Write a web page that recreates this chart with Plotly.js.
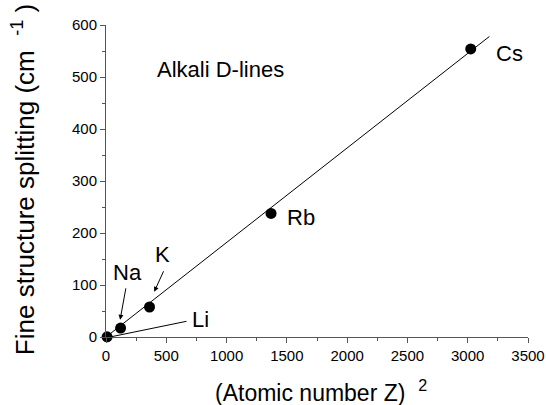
<!DOCTYPE html>
<html><head><meta charset="utf-8">
<script src="https://cdn.plot.ly/plotly-3.0.1.min.js"></script>
<style>html,body{margin:0;padding:0;background:#fff}#c{width:546px;height:405px}</style>
</head><body><div id="c"></div>
<script>
const elements = ["Li", "Na", "K", "Rb", "Cs"];
const zSquared = [9, 121, 361, 1369, 3025];
const splitting = [0.34, 17.2, 57.7, 237.6, 554.0];
const fitX = [0, 3180];
const fitY = [0, 578];
const xTicks = [0, 500, 1000, 1500, 2000, 2500, 3000, 3500];
const yTicks = [0, 100, 200, 300, 400, 500, 600];

const F = "Liberation Sans, Arial, Helvetica, sans-serif";
const traces = [
  {x: fitX, y: fitY, mode: "lines", line: {color: "#000", width: 1}, hoverinfo: "skip", cliponaxis: false},
  {x: zSquared, y: splitting, mode: "markers", text: elements, cliponaxis: false,
   marker: {color: "#000", size: 11}}
];
const lab = (t, x, y, xa) => ({text: t, x: x, y: y, xref: "x", yref: "y", showarrow: false,
  xanchor: xa || "center", yanchor: "middle", font: {family: F, size: 22, color: "#000"}});
const arr = (x, y, ax, ay, head) => ({text: "", x: x, y: y, ax: ax, ay: ay, xref: "x", yref: "y",
  showarrow: true, arrowhead: head, arrowsize: 1, arrowwidth: 1, arrowcolor: "#000", standoff: 0});
const layout = {
  width: 546, height: 405, showlegend: false,
  paper_bgcolor: "#fff", plot_bgcolor: "#fff",
  margin: {l: 106, r: 18, t: 25, b: 68},
  font: {family: F, size: 15, color: "#000"},
  xaxis: {range: [0, 3500], tickvals: xTicks, ticktext: xTicks.map(String),
    showgrid: false, zeroline: false, showline: true, linecolor: "#555", linewidth: 1,
    ticks: "outside", ticklen: 5, tickcolor: "#555",
    minor: {dtick: 250, ticks: "outside", ticklen: 3, tickcolor: "#555", showgrid: false},
    tickfont: {family: F, size: 15}},
  yaxis: {range: [0, 600], tickvals: yTicks, ticktext: yTicks.map(String),
    showgrid: false, zeroline: false, showline: true, linecolor: "#555", linewidth: 1,
    ticks: "outside", ticklen: 5, tickcolor: "#555",
    minor: {dtick: 50, ticks: "outside", ticklen: 3, tickcolor: "#555", showgrid: false},
    tickfont: {family: F, size: 15}},
  annotations: [
    {text: "(Atomic number Z)&nbsp;&nbsp;<sup>2</sup>", xref: "paper", yref: "paper",
     x: 0.51, y: -0.172, xanchor: "center", yanchor: "middle", showarrow: false,
     font: {family: F, size: 23, color: "#000"}},
    {text: "Fine structure splitting (cm&nbsp;&nbsp;<sup>-1</sup>&nbsp;)", xref: "paper", yref: "paper",
     x: -0.195, y: 0.505, xanchor: "center", yanchor: "middle", textangle: -90, showarrow: false,
     font: {family: F, size: 26, color: "#000"}},
    lab("Alkali D-lines", 408, 515, "left"),
    lab("Cs", 3350, 546),
    lab("Rb", 1617, 229),
    lab("K", 467, 158),
    lab("Na", 175, 125),
    lab("Li", 783, 33),
    arr(400, 87, 10, -22, 2),
    arr(117, 33, 6, -33, 2),
    arr(33, 0, 78, -16, 0)
  ]
};
Plotly.newPlot("c", traces, layout, {displayModeBar: false, staticPlot: true});
</script></body></html>
